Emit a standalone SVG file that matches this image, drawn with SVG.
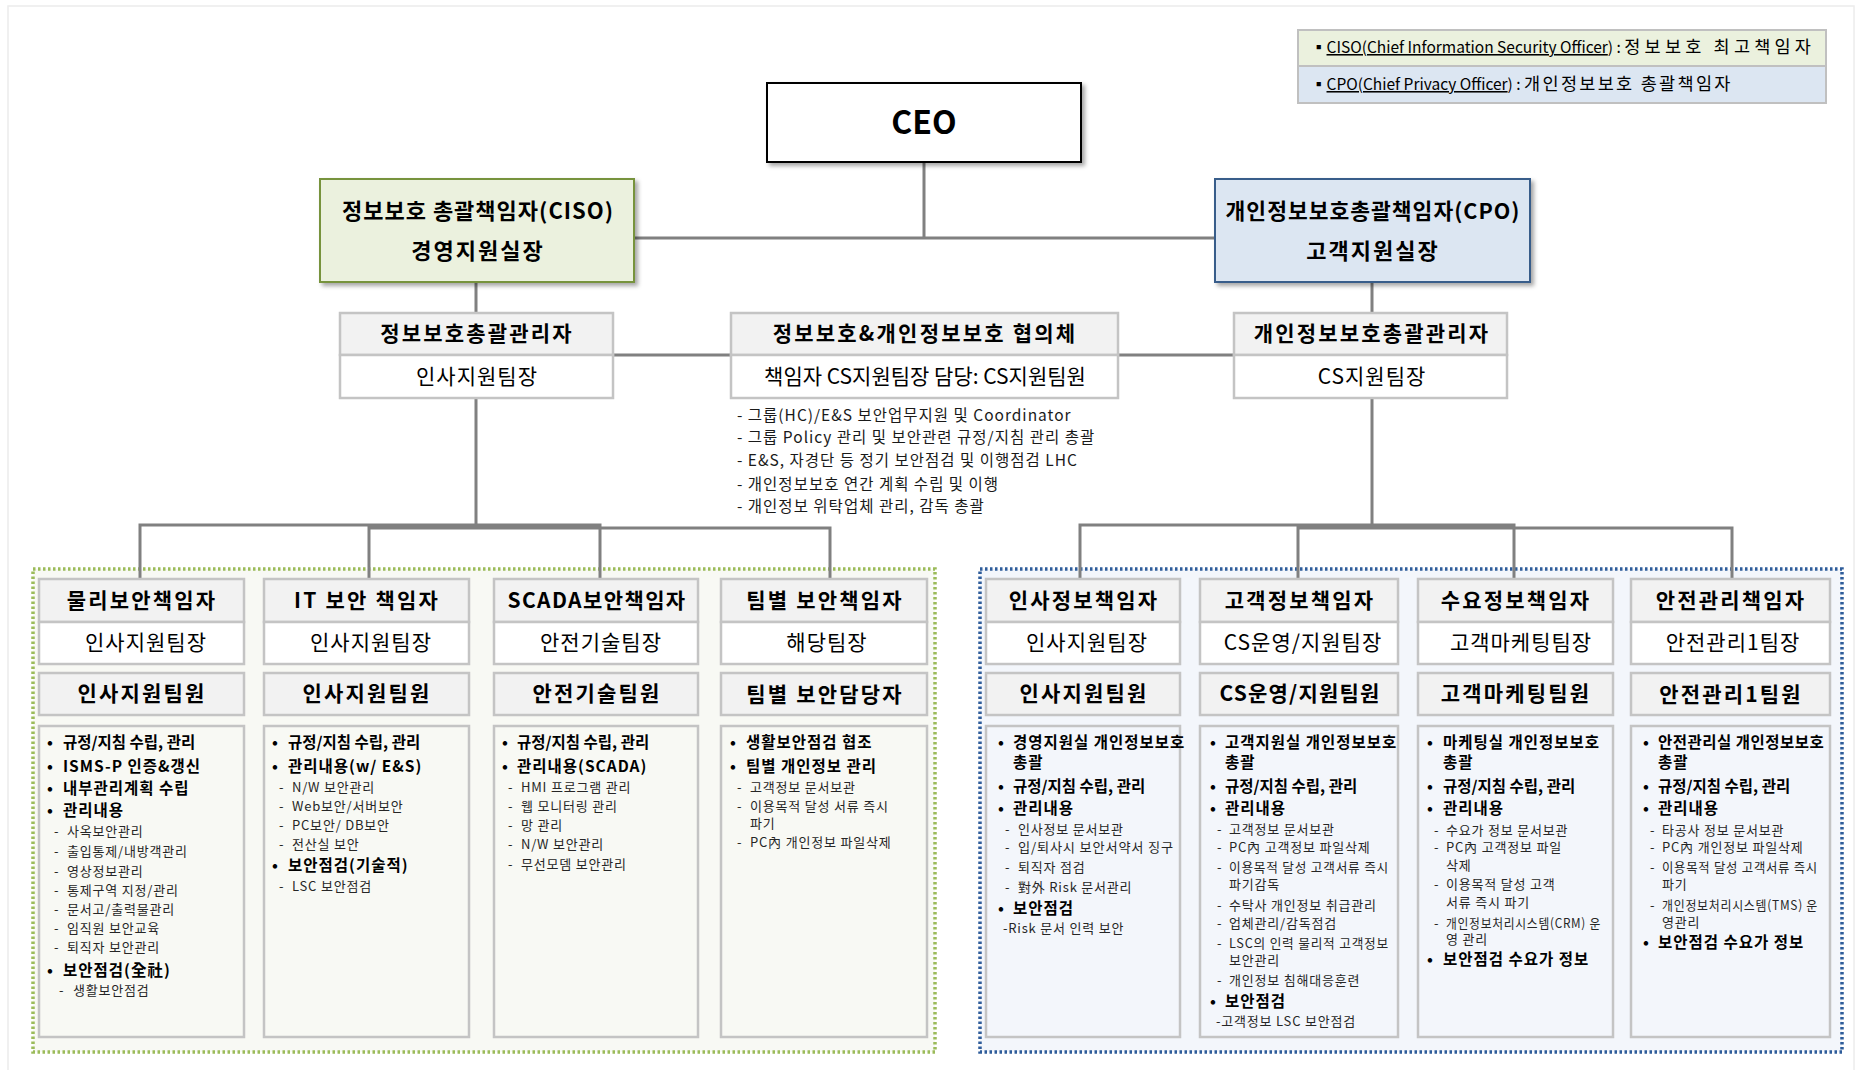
<svg xmlns="http://www.w3.org/2000/svg" width="1858" height="1070" viewBox="0 0 1858 1070">
<defs>
<filter id="sh" x="-10%" y="-10%" width="130%" height="140%">
<feDropShadow dx="3" dy="3" stdDeviation="2" flood-color="#000" flood-opacity="0.35"/>
</filter>
<style>
text{font-family:"Noto Sans CJK KR","Noto Sans",sans-serif;fill:#000}
.conn{fill:none;stroke:#808080;stroke-width:3}
.hd{fill:#f2f2f2;stroke:#c4c4c4;stroke-width:2.5}
.bd{fill:#fff;stroke:#c4c4c4;stroke-width:2.5}
.cbL{fill:#f8f9f4;stroke:#c4c4c4;stroke-width:2.5}
.cbR{fill:#f3f6fb;stroke:#c4c4c4;stroke-width:2.5}
.h{font-size:21px;font-weight:700;text-anchor:middle;letter-spacing:2.2px}
.n{font-size:21px;font-weight:400;text-anchor:middle;letter-spacing:1px}
.b{font-size:15.5px;font-weight:700;letter-spacing:1px}
.b0{letter-spacing:0}
.s{font-size:13px;fill:#262626;letter-spacing:0.8px}
.lg{font-size:15.5px}
.ds{font-size:15.5px;fill:#1a1a1a;letter-spacing:1px}
.t1{font-size:22px;font-weight:700;text-anchor:middle;letter-spacing:1px}
.t2{font-size:22px;font-weight:700;text-anchor:middle;letter-spacing:2px}
</style>
</defs>
<rect x="0" y="0" width="1858" height="1070" fill="#fff"/>
<rect x="8" y="6" width="1846" height="1080" fill="none" stroke="#ececec" stroke-width="1.5"/>

<!-- legend -->
<g id="legend">
<rect x="1298" y="30" width="528" height="36" fill="#ebf1de" stroke="#c0c0c0" stroke-width="2"/>
<rect x="1298" y="66" width="528" height="37" fill="#dce6f2" stroke="#c0c0c0" stroke-width="2"/>
<text class="lg" x="1311" y="53">▪<tspan text-decoration="underline">CISO(Chief Information Security Officer</tspan>) :  <tspan style="font-size:17.5px;letter-spacing:4.2px">정보보호 최고책임자</tspan></text>
<text class="lg" x="1311" y="90">▪<tspan text-decoration="underline">CPO(Chief Privacy Officer</tspan>) :  <tspan style="font-size:17.5px;letter-spacing:2.3px">개인정보보호 총괄책임자</tspan></text>
</g>

<!-- containers -->
<rect id="groupL" x="33" y="569" width="902" height="483" fill="#f8f9f4" stroke="#9bbb59" stroke-width="3.5" stroke-dasharray="2.5 2.5"/>
<rect id="groupR" x="980" y="569" width="862" height="483" fill="#f3f6fb" stroke="#2e5c9a" stroke-width="3.5" stroke-dasharray="2.5 2.5"/>

<!-- connectors -->
<g id="connectors">
<path class="conn" d="M924 162V238M634 238H1215"/>
<path class="conn" d="M476 282V313M1372 282V313"/>
<path class="conn" d="M613 355H731M1118 355H1234"/>
<path class="conn" d="M476 398V525H140V579M476 525H600V579M476 398V528H369V579M476 528H830V579"/>
<path class="conn" d="M1372 398V525H1080V579M1372 525H1514V579M1372 398V528H1298V579M1372 528H1732V579"/>
</g>

<!-- top -->
<g id="ceo">
<rect x="767" y="83" width="314" height="79" fill="#fff" stroke="#000" stroke-width="2" filter="url(#sh)"/>
<text x="924" y="134" style="font-size:32px;font-weight:700;text-anchor:middle">CEO</text>
</g>
<g id="ciso">
<rect x="320" y="179" width="314" height="103" fill="#ebf1de" stroke="#77933c" stroke-width="2" filter="url(#sh)"/>
<text class="t1" x="478" y="219">정보보호 총괄책임자(CISO)</text>
<text class="t2" x="478" y="259">경영지원실장</text>
</g>
<g id="cpo">
<rect x="1215" y="179" width="315" height="103" fill="#dce6f2" stroke="#385d8a" stroke-width="2" filter="url(#sh)"/>
<text class="t1" x="1373" y="219" style="font-size:21.5px">개인정보보호총괄책임자(CPO)</text>
<text class="t2" x="1373" y="259">고객지원실장</text>
</g>

<g id="mgrL">
<rect class="hd" x="340" y="313" width="273" height="42"/>
<rect class="bd" x="340" y="355" width="273" height="43"/>
<text class="h" x="477" y="341">정보보호총괄관리자</text>
<text class="n" x="477" y="384">인사지원팀장</text>
</g>
<g id="council">
<rect class="hd" x="731" y="313" width="387" height="42"/>
<rect class="bd" x="731" y="355" width="387" height="43"/>
<text class="h" x="925" y="341">정보보호&amp;개인정보보호 협의체</text>
<text class="n" x="925" y="384" style="letter-spacing:0">책임자 CS지원팀장 담당: CS지원팀원</text>
<text class="ds" x="737" y="421">- 그룹(HC)/E&amp;S 보안업무지원 및 Coordinator</text>
<text class="ds" x="737" y="443">- 그룹 Policy 관리 및 보안관련 규정/지침 관리 총괄</text>
<text class="ds" x="737" y="466">- E&amp;S, 자경단 등 정기 보안점검 및 이행점검 LHC</text>
<text class="ds" x="737" y="490">- 개인정보보호 연간 계획 수립 및 이행</text>
<text class="ds" x="737" y="512">- 개인정보 위탁업체 관리, 감독 총괄</text>
</g>
<g id="mgrR">
<rect class="hd" x="1234" y="313" width="273" height="42"/>
<rect class="bd" x="1234" y="355" width="273" height="43"/>
<text class="h" x="1372" y="341">개인정보보호총괄관리자</text>
<text class="n" x="1372" y="384">CS지원팀장</text>
</g>

<!-- column 1 -->
<g id="col1">
<rect class="hd" x="39" y="579" width="205" height="43"/>
<rect class="bd" x="39" y="622" width="205" height="42"/>
<rect class="hd" x="39" y="673" width="205" height="42"/>
<rect class="cbL" x="39" y="726" width="205" height="311"/>
<text class="h" x="142" y="608">물리보안책임자</text>
<text class="n" x="146" y="650">인사지원팀장</text>
<text class="h" x="142" y="701">인사지원팀원</text>
<text class="b" x="47" y="748">•</text><text class="b b0" x="63" y="748">규정/지침 수립, 관리</text>
<text class="b" x="47" y="772">•</text><text class="b" x="63" y="772">ISMS-P 인증&amp;갱신</text>
<text class="b" x="47" y="794">•</text><text class="b" x="63" y="794">내부관리계획 수립</text>
<text class="b" x="47" y="816">•</text><text class="b" x="63" y="816">관리내용</text>
<text class="s" x="54" y="836">-</text><text class="s" x="67" y="836">사옥보안관리</text>
<text class="s" x="54" y="856">-</text><text class="s" x="67" y="856">출입통제/내방객관리</text>
<text class="s" x="54" y="876">-</text><text class="s" x="67" y="876">영상정보관리</text>
<text class="s" x="54" y="895">-</text><text class="s" x="67" y="895">통제구역 지정/관리</text>
<text class="s" x="54" y="914">-</text><text class="s" x="67" y="914">문서고/출력물관리</text>
<text class="s" x="54" y="933">-</text><text class="s" x="67" y="933">임직원 보안교육</text>
<text class="s" x="54" y="952">-</text><text class="s" x="67" y="952">퇴직자 보안관리</text>
<text class="b" x="47" y="976">•</text><text class="b" x="63" y="976">보안점검(全社)</text>
<text class="s" x="59" y="995">-</text><text class="s" x="73" y="995">생활보안점검</text>
</g>

<!-- column 2 -->
<g id="col2">
<rect class="hd" x="264" y="579" width="205" height="43"/>
<rect class="bd" x="264" y="622" width="205" height="42"/>
<rect class="hd" x="264" y="673" width="205" height="42"/>
<rect class="cbL" x="264" y="726" width="205" height="311"/>
<text class="h" x="367" y="608">IT 보안 책임자</text>
<text class="n" x="371" y="650">인사지원팀장</text>
<text class="h" x="367" y="701">인사지원팀원</text>
<text class="b" x="272" y="748">•</text><text class="b b0" x="288" y="748">규정/지침 수립, 관리</text>
<text class="b" x="272" y="772">•</text><text class="b" x="288" y="772">관리내용(w/ E&amp;S)</text>
<text class="s" x="279" y="792">-</text><text class="s" x="292" y="792">N/W 보안관리</text>
<text class="s" x="279" y="811">-</text><text class="s" x="292" y="811">Web보안/서버보안</text>
<text class="s" x="279" y="830">-</text><text class="s" x="292" y="830">PC보안/ DB보안</text>
<text class="s" x="279" y="849">-</text><text class="s" x="292" y="849">전산실 보안</text>
<text class="b" x="272" y="871">•</text><text class="b" x="288" y="871">보안점검(기술적)</text>
<text class="s" x="279" y="891">-</text><text class="s" x="292" y="891">LSC 보안점검</text>
</g>

<!-- column 3 -->
<g id="col3">
<rect class="hd" x="494" y="579" width="204" height="43"/>
<rect class="bd" x="494" y="622" width="204" height="42"/>
<rect class="hd" x="494" y="673" width="204" height="42"/>
<rect class="cbL" x="494" y="726" width="204" height="311"/>
<text class="h" x="597" y="608" style="letter-spacing:1.4px">SCADA보안책임자</text>
<text class="n" x="601" y="650">안전기술팀장</text>
<text class="h" x="597" y="701">안전기술팀원</text>
<text class="b" x="502" y="748">•</text><text class="b b0" x="517" y="748">규정/지침 수립, 관리</text>
<text class="b" x="502" y="772">•</text><text class="b" x="517" y="772">관리내용(SCADA)</text>
<text class="s" x="508" y="792">-</text><text class="s" x="521" y="792">HMI 프로그램 관리</text>
<text class="s" x="508" y="811">-</text><text class="s" x="521" y="811">웹 모니터링 관리</text>
<text class="s" x="508" y="830">-</text><text class="s" x="521" y="830">망 관리</text>
<text class="s" x="508" y="849">-</text><text class="s" x="521" y="849">N/W 보안관리</text>
<text class="s" x="508" y="869">-</text><text class="s" x="521" y="869">무선모뎀 보안관리</text>
</g>

<!-- column 4 -->
<g id="col4">
<rect class="hd" x="721" y="579" width="206" height="43"/>
<rect class="bd" x="721" y="622" width="206" height="42"/>
<rect class="hd" x="721" y="673" width="206" height="42"/>
<rect class="cbL" x="721" y="726" width="206" height="311"/>
<text class="h" x="825" y="608">팀별 보안책임자</text>
<text class="n" x="827" y="650">해당팀장</text>
<text class="h" x="825" y="702">팀별 보안담당자</text>
<text class="b" x="730" y="748">•</text><text class="b" x="746" y="748">생활보안점검 협조</text>
<text class="b" x="730" y="772">•</text><text class="b" x="746" y="772">팀별 개인정보 관리</text>
<text class="s" x="737" y="792">-</text><text class="s" x="750" y="792">고객정보 문서보관</text>
<text class="s" x="737" y="811">-</text><text class="s" x="750" y="811">이용목적 달성 서류 즉시</text>
<text class="s" x="750" y="828">파기</text>
<text class="s" x="737" y="847">-</text><text class="s" x="750" y="847">PC內 개인정보 파일삭제</text>
</g>

<!-- column 5 -->
<g id="col5">
<rect class="hd" x="986" y="579" width="194" height="43"/>
<rect class="bd" x="986" y="622" width="194" height="42"/>
<rect class="hd" x="986" y="673" width="194" height="42"/>
<rect class="cbR" x="986" y="726" width="194" height="311"/>
<text class="h" x="1084" y="608">인사정보책임자</text>
<text class="n" x="1087" y="650">인사지원팀장</text>
<text class="h" x="1084" y="701">인사지원팀원</text>
<text class="b" x="998" y="748">•</text><text class="b" x="1013" y="748">경영지원실 개인정보보호</text>
<text class="b" x="1013" y="768">총괄</text>
<text class="b" x="998" y="792">•</text><text class="b b0" x="1013" y="792">규정/지침 수립, 관리</text>
<text class="b" x="998" y="814">•</text><text class="b" x="1013" y="814">관리내용</text>
<text class="s" x="1005" y="834">-</text><text class="s" x="1018" y="834">인사정보 문서보관</text>
<text class="s" x="1005" y="852">-</text><text class="s" x="1018" y="852" textLength="156" lengthAdjust="spacingAndGlyphs">입/퇴사시 보안서약서 징구</text>
<text class="s" x="1005" y="872">-</text><text class="s" x="1018" y="872">퇴직자 점검</text>
<text class="s" x="1005" y="892">-</text><text class="s" x="1018" y="892">對外 Risk 문서관리</text>
<text class="b" x="998" y="914">•</text><text class="b" x="1013" y="914">보안점검</text>
<text class="s" x="1003" y="933">-Risk 문서 인력 보안</text>
</g>

<!-- column 6 -->
<g id="col6">
<rect class="hd" x="1200" y="579" width="198" height="43"/>
<rect class="bd" x="1200" y="622" width="198" height="42"/>
<rect class="hd" x="1200" y="673" width="198" height="42"/>
<rect class="cbR" x="1200" y="726" width="198" height="311"/>
<text class="h" x="1300" y="608">고객정보책임자</text>
<text class="n" x="1303" y="650">CS운영/지원팀장</text>
<text class="h" x="1300" y="701" style="letter-spacing:1.2px">CS운영/지원팀원</text>
<text class="b" x="1210" y="748">•</text><text class="b" x="1225" y="748">고객지원실 개인정보보호</text>
<text class="b" x="1225" y="768">총괄</text>
<text class="b" x="1210" y="792">•</text><text class="b b0" x="1225" y="792">규정/지침 수립, 관리</text>
<text class="b" x="1210" y="814">•</text><text class="b" x="1225" y="814">관리내용</text>
<text class="s" x="1217" y="834">-</text><text class="s" x="1229" y="834">고객정보 문서보관</text>
<text class="s" x="1217" y="852">-</text><text class="s" x="1229" y="852">PC內 고객정보 파일삭제</text>
<text class="s" x="1217" y="872">-</text><text class="s" x="1229" y="872" textLength="160" lengthAdjust="spacingAndGlyphs">이용목적 달성 고객서류 즉시</text>
<text class="s" x="1229" y="889">파기감독</text>
<text class="s" x="1217" y="910">-</text><text class="s" x="1229" y="910">수탁사 개인정보 취급관리</text>
<text class="s" x="1217" y="928">-</text><text class="s" x="1229" y="928">업체관리/감독점검</text>
<text class="s" x="1217" y="948">-</text><text class="s" x="1229" y="948" textLength="160" lengthAdjust="spacingAndGlyphs">LSC의 인력 물리적 고객정보</text>
<text class="s" x="1229" y="965">보안관리</text>
<text class="s" x="1217" y="985">-</text><text class="s" x="1229" y="985">개인정보 침해대응훈련</text>
<text class="b" x="1210" y="1007">•</text><text class="b" x="1225" y="1007">보안점검</text>
<text class="s" x="1216" y="1026">-고객정보 LSC 보안점검</text>
</g>

<!-- column 7 -->
<g id="col7">
<rect class="hd" x="1418" y="579" width="195" height="43"/>
<rect class="bd" x="1418" y="622" width="195" height="42"/>
<rect class="hd" x="1418" y="673" width="195" height="42"/>
<rect class="cbR" x="1418" y="726" width="195" height="311"/>
<text class="h" x="1516" y="608">수요정보책임자</text>
<text class="n" x="1521" y="650">고객마케팅팀장</text>
<text class="h" x="1516" y="701">고객마케팅팀원</text>
<text class="b" x="1427" y="748">•</text><text class="b" x="1443" y="748">마케팅실 개인정보보호</text>
<text class="b" x="1443" y="768">총괄</text>
<text class="b" x="1427" y="792">•</text><text class="b b0" x="1443" y="792">규정/지침 수립, 관리</text>
<text class="b" x="1427" y="814">•</text><text class="b" x="1443" y="814">관리내용</text>
<text class="s" x="1434" y="835">-</text><text class="s" x="1446" y="835">수요가 정보 문서보관</text>
<text class="s" x="1434" y="852">-</text><text class="s" x="1446" y="852">PC內 고객정보 파일</text>
<text class="s" x="1446" y="870">삭제</text>
<text class="s" x="1434" y="889">-</text><text class="s" x="1446" y="889">이용목적 달성 고객</text>
<text class="s" x="1446" y="907">서류 즉시 파기</text>
<text class="s" x="1434" y="928">-</text><text class="s" x="1446" y="928" textLength="155" lengthAdjust="spacingAndGlyphs">개인정보처리시스템(CRM) 운</text>
<text class="s" x="1446" y="944">영 관리</text>
<text class="b" x="1427" y="965">•</text><text class="b" x="1443" y="965">보안점검 수요가 정보</text>
</g>

<!-- column 8 -->
<g id="col8">
<rect class="hd" x="1631" y="579" width="199" height="43"/>
<rect class="bd" x="1631" y="622" width="199" height="42"/>
<rect class="hd" x="1631" y="673" width="199" height="42"/>
<rect class="cbR" x="1631" y="726" width="199" height="311"/>
<text class="h" x="1731" y="608">안전관리책임자</text>
<text class="n" x="1733" y="650">안전관리1팀장</text>
<text class="h" x="1731" y="702">안전관리1팀원</text>
<text class="b" x="1643" y="748">•</text><text class="b" x="1658" y="748" style="letter-spacing:0.5px">안전관리실 개인정보보호</text>
<text class="b" x="1658" y="768">총괄</text>
<text class="b" x="1643" y="792">•</text><text class="b b0" x="1658" y="792">규정/지침 수립, 관리</text>
<text class="b" x="1643" y="814">•</text><text class="b" x="1658" y="814">관리내용</text>
<text class="s" x="1650" y="835">-</text><text class="s" x="1662" y="835">타공사 정보 문서보관</text>
<text class="s" x="1650" y="852">-</text><text class="s" x="1662" y="852">PC內 개인정보 파일삭제</text>
<text class="s" x="1650" y="872">-</text><text class="s" x="1662" y="872" textLength="156" lengthAdjust="spacingAndGlyphs">이용목적 달성 고객서류 즉시</text>
<text class="s" x="1662" y="889">파기</text>
<text class="s" x="1650" y="910">-</text><text class="s" x="1662" y="910" textLength="156" lengthAdjust="spacingAndGlyphs">개인정보처리시스템(TMS) 운</text>
<text class="s" x="1662" y="927">영관리</text>
<text class="b" x="1643" y="948">•</text><text class="b" x="1658" y="948">보안점검 수요가 정보</text>
</g>
</svg>
